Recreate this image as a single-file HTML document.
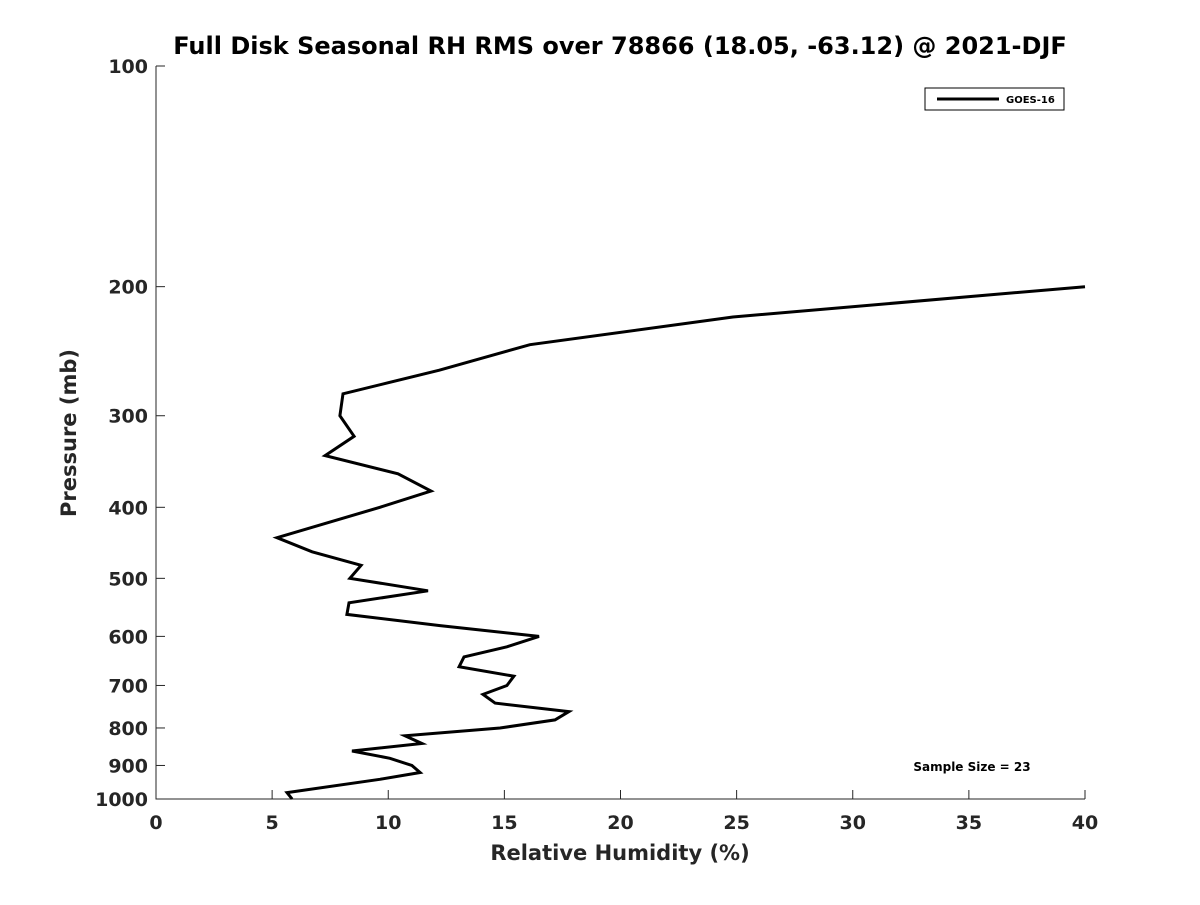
<!DOCTYPE html>
<html><head><meta charset="utf-8"><style>
body{margin:0;background:#fff}
svg text{font-family:"DejaVu Sans","Liberation Sans",sans-serif;font-weight:bold;fill:#262626}
</style></head><body>
<svg id="c" width="1200" height="900" xmlns="http://www.w3.org/2000/svg">
<text x="620" y="54" text-anchor="middle" font-size="24" style="fill:#000">Full Disk Seasonal RH RMS over 78866 (18.05, -63.12) @ 2021-DJF</text>
<g id="axes"></g>
<text x="620" y="860" text-anchor="middle" font-size="21">Relative Humidity (%)</text>
<text transform="translate(76,433) rotate(-90)" text-anchor="middle" font-size="21">Pressure (mb)</text>
<g>
<rect x="925" y="88" width="139" height="22" fill="#fff" stroke="#000" stroke-width="1"/>
<line x1="937" y1="99" x2="999" y2="99" stroke="#000" stroke-width="3"/>
<text x="1006" y="103" font-size="10" style="fill:#000">GOES-16</text>
</g>
<text x="972" y="771" text-anchor="middle" font-size="12" style="fill:#000">Sample Size = 23</text>
</svg>
<script>
const pressures=[200,220,240,260,280,300,320,340,360,380,400,440,460,480,500,520,540,560,580,600,620,640,660,680,700,720,740,760,780,800,820,840,860,880,900,920,940,980,1000];
const rhValues=[40,24.84,16.1,12.2,8.05,7.92,8.53,7.28,10.42,11.84,9.64,5.21,6.72,8.83,8.35,11.71,8.31,8.22,12.23,16.49,15.11,13.26,13.05,15.41,15.11,14.08,14.6,17.78,17.18,14.81,10.72,11.45,8.44,10.07,11.02,11.37,9.64,5.64,5.86];
const xTicks=[0,5,10,15,20,25,30,35,40];
const yTicks=[100,200,300,400,500,600,700,800,900,1000];
const L=156,R=1085,T=66,B=799;
const X=v=>L+(v-0)/40*(R-L);
const Y=p=>T+Math.log10(p/100)*(B-T);
const ns="http://www.w3.org/2000/svg",svg=document.getElementById('c'),g=document.getElementById('axes');
function mk(t,a,parent){const e=document.createElementNS(ns,t);for(const k in a)e.setAttribute(k,a[k]);(parent||g).appendChild(e);return e;}
const ax=mk('path',{d:`M${L},${T}V${B}H${R}`,fill:'none',stroke:'#262626','stroke-width':1});


xTicks.forEach(v=>{const x=X(v);
const t=mk('line',{x1:x,x2:x,y1:B,y2:B-9,stroke:'#262626'});


const l=mk('text',{x:x,y:B+30,'text-anchor':'middle','font-size':19});l.textContent=v;

});
yTicks.forEach(p=>{const y=Y(p);
const t=mk('line',{x1:L,x2:L+9,y1:y,y2:y,stroke:'#262626'});


const l=mk('text',{x:L-8,y:y+7,'text-anchor':'end','font-size':19});l.textContent=p;

});
const pts=pressures.map((p,i)=>X(rhValues[i]).toFixed(1)+','+Y(p).toFixed(1)).join(' ');
const line=mk('polyline',{points:pts,fill:'none',stroke:'#000','stroke-width':3,'stroke-linejoin':'miter'},svg);


</script>
</body></html>
